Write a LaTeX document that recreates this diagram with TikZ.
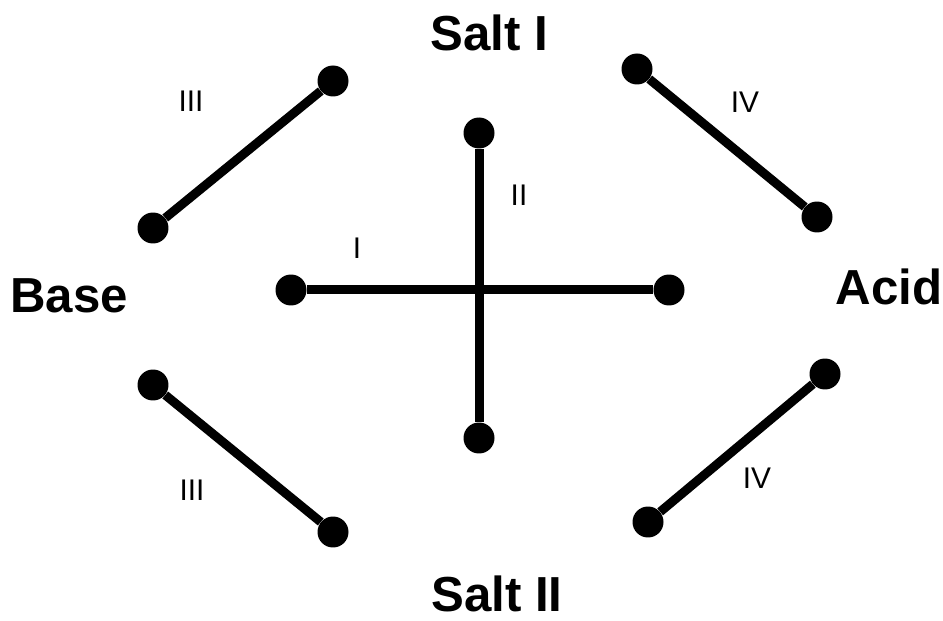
\documentclass[tikz,border=0pt]{standalone}
\usepackage{fontspec}
\setmainfont{Liberation Sans}
\usepackage{tikz}
\usetikzlibrary{positioning}

\tikzset{
  dot/.style={circle,fill=black,inner sep=0pt,minimum size=0.62cm},
  bar/.style={line width=0.18cm},
  corner/.style={font=\bfseries\fontsize{28}{30}\selectfont,inner sep=1pt},
  tag/.style={font=\fontsize{17}{20}\selectfont}
}

\begin{document}
\begin{tikzpicture}[x=0.02cm,y=-0.02cm]
  \useasboundingbox (0,0) rectangle (943,621);
  % substances
  \node[corner] (salt1) at (489,33) {Salt I};
  \node[corner] (salt2) at (497,594) {Salt II};
  \node[corner] (base)  at (69,296) {Base};
  \node[corner] (acid)  at (889,287) {Acid};
  % end points
  \node[dot] (p1) at (291,290) {};
  \node[dot] (p2) at (669,290) {};
  \node[dot] (q1) at (479,133) {};
  \node[dot] (q2) at (479,438) {};
  \node[dot] (u1) at (153,228) {};
  \node[dot] (u2) at (333,81) {};
  \node[dot] (v1) at (637,69) {};
  \node[dot] (v2) at (817,217) {};
  \node[dot] (w1) at (153,385) {};
  \node[dot] (w2) at (333,532) {};
  \node[dot] (z1) at (648,522) {};
  \node[dot] (z2) at (825,374) {};
  % reactions
  \draw[bar] (p1) -- (p2);
  \draw[bar] (q1) -- (q2);
  \draw[bar] (u1) -- (u2);
  \draw[bar] (v1) -- (v2);
  \draw[bar] (w1) -- (w2);
  \draw[bar] (z1) -- (z2);
  \node[tag] (t1) at (357,248) {I};
  \node[tag] (t2) at (519,195) {II};
  \node[tag] (t3) at (191,101) {III};
  \node[tag] (t4) at (745,102) {IV};
  \node[tag] (t5) at (192,490) {III};
  \node[tag] (t6) at (757,478) {IV};
\end{tikzpicture}
\end{document}
